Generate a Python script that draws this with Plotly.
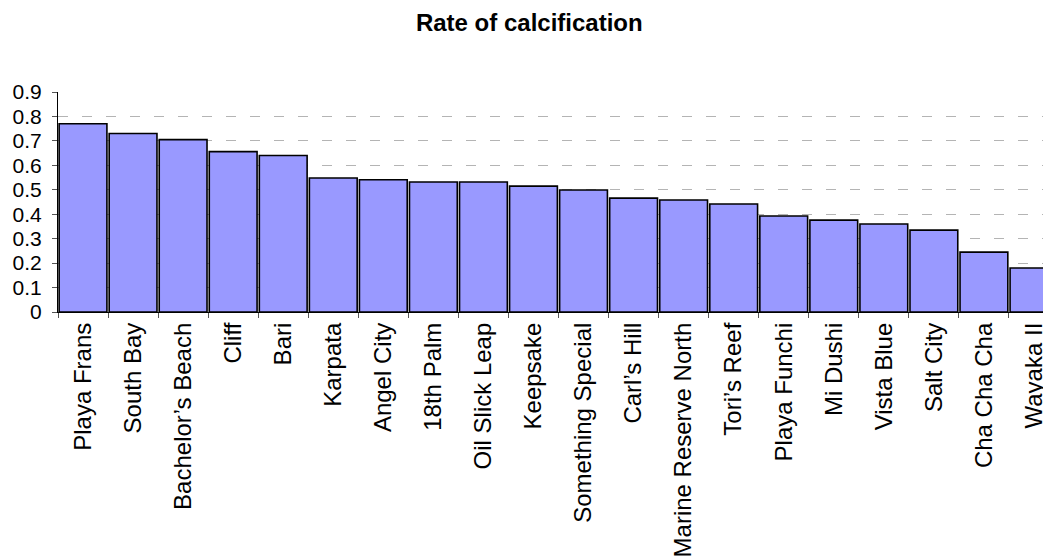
import plotly.graph_objects as go

# Reef sites and their calcification rate
sites = [
    "Playa Frans", "South Bay", "Bachelor’s Beach", "Cliff", "Bari",
    "Karpata", "Angel City", "18th Palm", "Oil Slick Leap", "Keepsake",
    "Something Special", "Carl’s Hill", "Marine Reserve North", "Tori’s Reef",
    "Playa Funchi", "Mi Dushi", "Vista Blue", "Salt City", "Cha Cha Cha",
    "Wayaka II",
]
rates = [
    0.770, 0.730, 0.705, 0.656, 0.640,
    0.548, 0.541, 0.532, 0.532, 0.515,
    0.499, 0.466, 0.458, 0.442,
    0.393, 0.376, 0.360, 0.335, 0.245,
    0.180,
]
y_ticks = [0, 0.1, 0.2, 0.3, 0.4, 0.5, 0.6, 0.7, 0.8, 0.9]

_FONT = "Arial, Liberation Sans, sans-serif"

fig = go.Figure(go.Bar(
    x=sites,
    y=rates,
    marker=dict(color="#9999ff", line=dict(color="black", width=1.6)),
    hovertemplate="%{x}: %{y:.3f}<extra></extra>",
))

# note: the page body adds an 8px offset, margins below account for it
fig.update_layout(
    width=1051,
    height=560,
    template="plotly_white",
    plot_bgcolor="white",
    paper_bgcolor="white",
    font=dict(family=_FONT, color="black"),
    title=dict(
        text="<b>Rate of calcification</b>",
        font=dict(size=24, family=_FONT, color="black"),
        x=0.496, xanchor="center",
        y=1 - 15 / 560, yanchor="middle",
    ),
    bargap=0.045,
    showlegend=False,
    margin=dict(l=50, r=0, t=84, b=256),
    xaxis=dict(
        range=[-0.5, 19.5],
        automargin=False,
        showline=True, linecolor="black", linewidth=1.2,
        ticks="outside", tickson="boundaries", ticklen=5, tickcolor="#555555",
        tickangle=-90,
        tickfont=dict(size=24, family=_FONT, color="black"),
        showgrid=False,
    ),
    yaxis=dict(
        range=[0, 0.9],
        automargin=False,
        tickvals=y_ticks,
        ticktext=[f"{v:g}" for v in y_ticks],
        showline=True, linecolor="black", linewidth=1.2,
        ticks="outside", ticklen=5, tickcolor="#555555",
        tickfont=dict(size=21, family=_FONT, color="black"),
        ticklabelstandoff=6,
        showgrid=True, gridcolor="#b4b4b4", gridwidth=1,
        griddash="10px,14px",
        zeroline=False,
    ),
)

fig.write_html("out.html")
